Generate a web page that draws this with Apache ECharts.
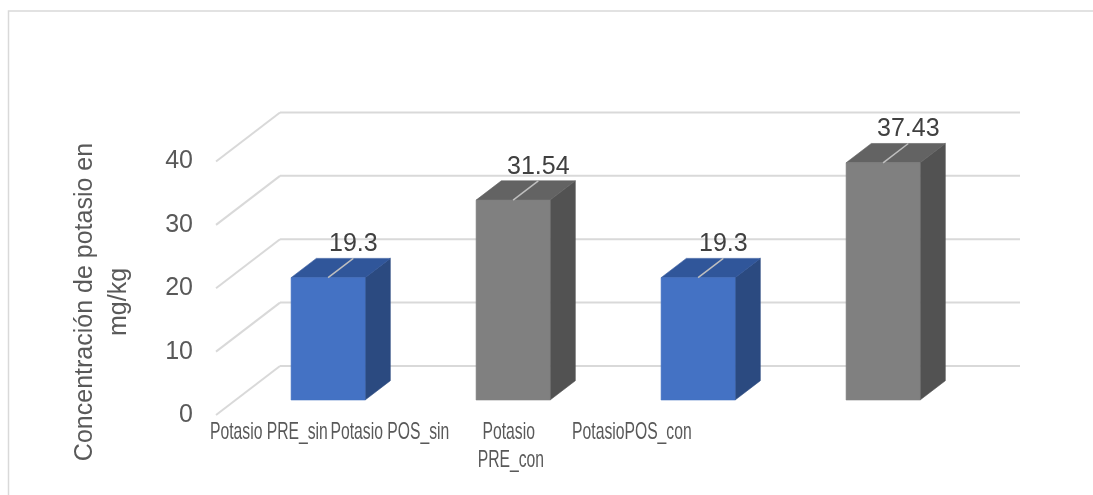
<!DOCTYPE html>
<html>
<head>
<meta charset="utf-8">
<title>Concentración de potasio</title>
<script src="https://cdn.jsdelivr.net/npm/echarts@6/dist/echarts.min.js"></script>
<style>
  html, body { margin: 0; padding: 0; background: #ffffff; }
  #chart { width: 1093px; height: 495px; }
</style>
</head>
<body>
<div id="chart"></div>
<script>
// Potassium concentration before / after, without and with treatment
const categories = ['Potasio PRE_sin', 'Potasio POS_sin', 'Potasio PRE_con', 'PotasioPOS_con'];
const values = [19.3, 31.54, 19.3, 37.43];
const valueLabels = ['19.3', '31.54', '19.3', '37.43'];
const yTicks = [0, 10, 20, 30, 40];
const axisTitle = 'Concentración de potasio en\nmg/kg';

// Pseudo-3D geometry: the grid is the plane of the bar fronts.
// Full floor depth runs (64, -49) px; bars sit between 30.6% and 70% of it.
const DEPTH = { x: 64, y: -49 };
const FRONT_T = 0.306;
const BAR_T = 0.394;
const FONT = 'Liberation Sans, Arial, sans-serif';
const LABEL_SQUEEZE = 0.654;
const LABEL_PIVOT = 194;
const TICK_GAP = 23;

const PALETTE = {
  pre: { front: '#4472C4', top: '#30569A', side: '#2B4A80' },
  pos: { front: '#808080', top: '#636363', side: '#525252' }
};

const frontOff = { x: -DEPTH.x * FRONT_T, y: -DEPTH.y * FRONT_T };
const backOff = { x: DEPTH.x * (1 - FRONT_T), y: DEPTH.y * (1 - FRONT_T) };
const barOff = { x: DEPTH.x * BAR_T, y: DEPTH.y * BAR_T };

const chart = echarts.init(document.getElementById('chart'), null, { renderer: 'canvas' });

// Back-wall gridlines, side-wall diagonals and the value tick labels
function renderWalls(params, api) {
  const v = api.value(1);
  const cs = params.coordSys;
  const y = api.coord([0, v])[1];
  const lineStyle = { stroke: '#D9D9D9', lineWidth: 2 };
  return {
    type: 'group',
    children: [
      {
        type: 'line',
        shape: { x1: cs.x + backOff.x, y1: y + backOff.y, x2: cs.x + cs.width + backOff.x, y2: y + backOff.y },
        style: lineStyle
      },
      {
        type: 'line',
        shape: { x1: cs.x + frontOff.x, y1: y + frontOff.y, x2: cs.x + backOff.x, y2: y + backOff.y },
        style: lineStyle
      },
      {
        type: 'text',
        x: cs.x + frontOff.x - TICK_GAP,
        y: y + frontOff.y,
        style: {
          text: String(v),
          align: 'right',
          verticalAlign: 'middle',
          font: '25px ' + FONT,
          fill: '#595959'
        }
      }
    ]
  };
}

function renderBar(params, api) {
  const i = api.value(0);
  const v = api.value(1);
  const base = api.coord([i, 0]);
  const top = api.coord([i, v]);
  const bw = api.size([1, 0])[0] * 0.4;
  const x0 = base[0] - bw / 2, x1 = base[0] + bw / 2;
  const yb = base[1], yt = top[1];
  const dx = barOff.x, dy = barOff.y;
  const c = /PRE/.test(categories[i]) ? PALETTE.pre : PALETTE.pos;
  return {
    type: 'group',
    children: [
      {
        type: 'polygon',
        shape: { points: [[x1, yt], [x1 + dx, yt + dy], [x1 + dx, yb + dy], [x1, yb]] },
        style: { fill: c.side, stroke: c.side, lineWidth: 0.6 }
      },
      {
        type: 'polygon',
        shape: { points: [[x0, yt], [x1, yt], [x1 + dx, yt + dy], [x0 + dx, yt + dy]] },
        style: { fill: c.top, stroke: c.top, lineWidth: 0.6 }
      },
      {
        type: 'rect',
        shape: { x: x0, y: yt, width: bw, height: yb - yt },
        style: { fill: c.front, stroke: c.front, lineWidth: 0.6 }
      },
      {
        type: 'line',
        shape: { x1: base[0], y1: yt, x2: base[0] + dx, y2: yt + dy },
        style: { stroke: '#BFBFBF', lineWidth: 1.5 }
      },
      {
        type: 'text',
        x: base[0] + dx,
        y: yt + dy - 14,
        style: {
          text: valueLabels[i],
          align: 'center',
          verticalAlign: 'middle',
          font: '25px ' + FONT,
          fill: '#404040'
        }
      }
    ]
  };
}

// Category names under the floor, narrowed horizontally
function renderCategoryLabel(params, api) {
  const i = api.value(0);
  const band = api.size([1, 0])[0];
  const cx = api.coord([i, 0])[0] + frontOff.x;
  const x = LABEL_PIVOT + LABEL_SQUEEZE * (cx - LABEL_PIVOT);
  const y0 = api.coord([i, 0])[1] + frontOff.y;
  return {
    type: 'text',
    x: x,
    y: y0 + 4,
    scaleX: LABEL_SQUEEZE,
    style: {
      text: categories[i],
      x: 0,
      y: 0,
      align: 'center',
      verticalAlign: 'top',
      width: band,
      overflow: 'break',
      lineHeight: 27.5,
      font: '24px ' + FONT,
      fill: '#595959'
    }
  };
}

const option = {
  backgroundColor: '#ffffff',
  animation: false,
  grid: { left: 235.6, right: 117.4, top: 146.5, bottom: 95, containLabel: false },
  xAxis: {
    type: 'category',
    data: categories,
    axisLine: { show: false },
    axisTick: { show: false },
    axisLabel: { show: false },
    splitLine: { show: false }
  },
  yAxis: {
    type: 'value',
    min: yTicks[0],
    max: yTicks[yTicks.length - 1],
    interval: yTicks[1] - yTicks[0],
    axisLine: { show: false },
    axisTick: { show: false },
    splitLine: { show: false },
    axisLabel: { show: false }
  },
  graphic: [
    {
      type: 'rect',
      shape: { x: 8.5, y: 11, width: 1200, height: 600 },
      style: { fill: 'none', stroke: '#D9D9D9', lineWidth: 1.5 },
      silent: true,
      z: -10
    },
    {
      type: 'text',
      x: 102,
      y: 302,
      rotation: Math.PI / 2,
      style: {
        text: axisTitle,
        align: 'center',
        verticalAlign: 'middle',
        lineHeight: 33.4,
        font: '25px ' + FONT,
        fill: '#595959'
      }
    }
  ],
  series: [
    {
      type: 'custom',
      name: 'walls',
      silent: true,
      z: 1,
      renderItem: renderWalls,
      data: yTicks.map(function (t) { return [0, t]; })
    },
    {
      type: 'custom',
      name: 'Potasio',
      z: 2,
      renderItem: renderBar,
      data: values.map(function (v, i) { return [i, v]; })
    },
    {
      type: 'custom',
      name: 'categorias',
      silent: true,
      z: 3,
      renderItem: renderCategoryLabel,
      data: values.map(function (v, i) { return [i, 0]; })
    }
  ]
};

chart.setOption(option);
</script>
</body>
</html>
